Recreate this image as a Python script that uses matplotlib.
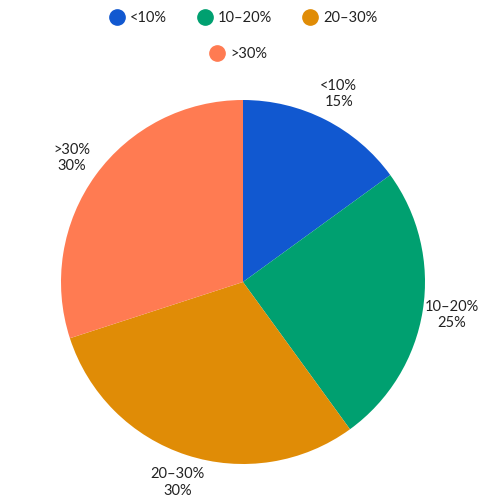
import matplotlib
matplotlib.use("Agg")
import matplotlib.pyplot as plt
from matplotlib.lines import Line2D

categories = ["<10%", "10–20%", "20–30%", ">30%"]
values = [15, 25, 30, 30]
colors = ["#1158D0", "#00A070", "#E08C06", "#FF7B52"]

plt.rcParams['font.family'] = ['Lato', 'DejaVu Sans']

fig = plt.figure(figsize=(5, 5), dpi=100)
ax = fig.add_axes([0, 0, 1, 1])
cx, cy, r = 243, 218, 182
labels = [f"{c}\n{v}%" for c, v in zip(categories, values)]
wedges, texts = ax.pie(values, colors=colors, startangle=90, counterclock=False,
                       labels=labels, labeldistance=1.16,
                       textprops=dict(fontsize=10.5, color="#222222", ha="center", va="center",
                                      linespacing=1.25),
                       wedgeprops=dict(linewidth=0))
for t in texts:
    t.set_ha("center")
ax.set_aspect("auto")
ax.set_xlim(-cx / r, (500 - cx) / r)
ax.set_ylim(-cy / r, (500 - cy) / r)
ax.axis("off")

handles = [Line2D([], [], marker="o", linestyle="", markersize=11,
                  markerfacecolor=c, markeredgecolor=c) for c in colors]
leg1 = fig.legend(handles[:3], categories[:3], loc="center", bbox_to_anchor=(0.485, 0.963),
                  ncol=3, frameon=False, fontsize=10.5, handletextpad=0.3, columnspacing=2.0,
                  handlelength=1.2)
leg2 = fig.legend(handles[3:], categories[3:], loc="center", bbox_to_anchor=(0.476, 0.891),
                  ncol=1, frameon=False, fontsize=10.5, handletextpad=0.3, handlelength=1.2)
for leg in (leg1, leg2):
    for t in leg.get_texts():
        t.set_color("#222222")

fig.savefig("out.png", dpi=100)
